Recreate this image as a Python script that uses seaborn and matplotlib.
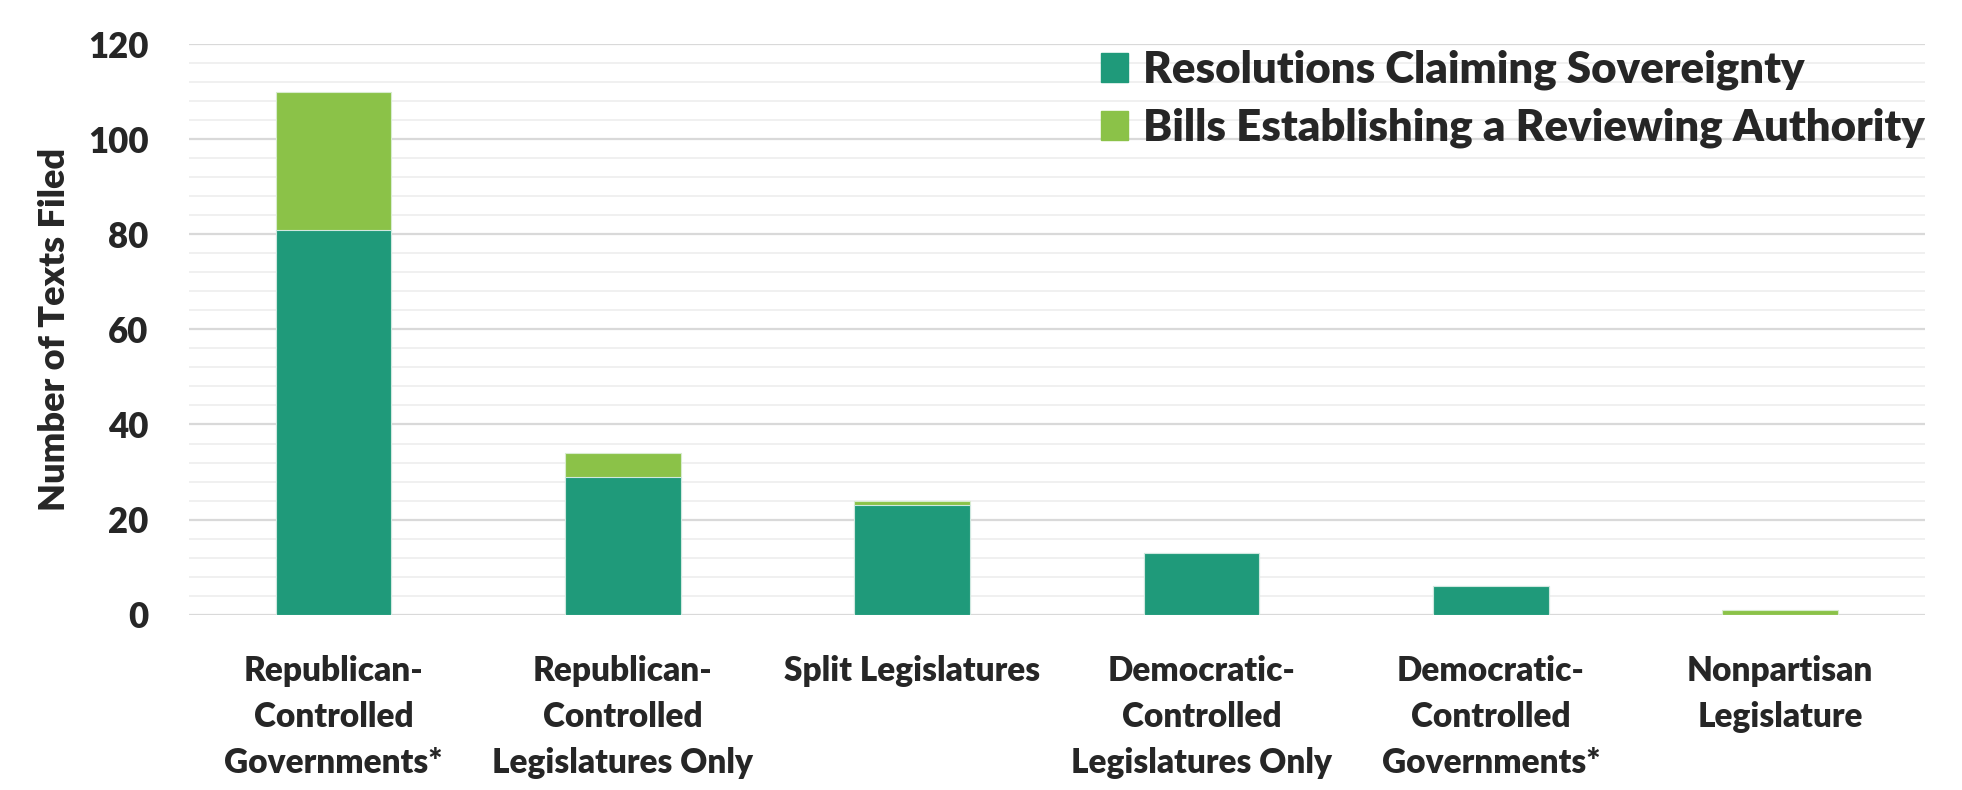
import matplotlib
matplotlib.use('Agg')
import matplotlib.pyplot as plt
import seaborn as sb
import numpy as np
from matplotlib.patches import Patch
from matplotlib.ticker import MultipleLocator

categories = [
    'Republican-\nControlled\nGovernments*',
    'Republican-\nControlled\nLegislatures Only',
    'Split Legislatures',
    'Democratic-\nControlled\nLegislatures Only',
    'Democratic-\nControlled\nGovernments*',
    'Nonpartisan\nLegislature',
]
resolutions = [81, 29, 23, 13, 6, 0]
bills = [29, 5, 1, 0, 0, 1]

dark_green = '#1f9a7a'
light_green = '#8bc248'

sb.set_theme(style="white")
plt.rcParams['font.family'] = ['Lato', 'DejaVu Sans']

totals = [r + b for r, b in zip(resolutions, bills)]

fig, ax = plt.subplots(figsize=(19.62, 7.9), dpi=100)
fig.subplots_adjust(left=.0963, right=.981, top=.944, bottom=.222)

# stacked: draw totals first, resolutions on top of them
sb.barplot(x=categories, y=totals, color=light_green, width=0.4, saturation=1,
           edgecolor='#d8eccf', linewidth=0.8, ax=ax, zorder=3)
sb.barplot(x=categories, y=resolutions, color=dark_green, width=0.4, saturation=1,
           edgecolor='#cfe8e0', linewidth=0.8, ax=ax, zorder=4)

ax.set_ylim(0, 120)
ax.set_xlim(-0.5, 5.5)
ax.yaxis.set_major_locator(MultipleLocator(20))
ax.yaxis.set_minor_locator(MultipleLocator(4))
ax.grid(which='major', axis='y', color='#d9d9d9', linewidth=1.6, zorder=0)
ax.grid(which='minor', axis='y', color='#f0f0f0', linewidth=1.4, zorder=0)
ax.set_axisbelow(True)
for s in ['top', 'right', 'left', 'bottom']:
    ax.spines[s].set_visible(False)
ax.tick_params(axis='both', which='both', length=0)
ax.tick_params(axis='y', labelsize=25, pad=29)
ax.tick_params(axis='x', labelsize=24, pad=29)
for lab in ax.get_yticklabels():
    lab.set_fontweight('heavy')
for lab in ax.get_xticklabels():
    lab.set_fontweight('heavy')
    lab.set_linespacing(1.55)
ax.set_ylabel('Number of Texts Filed', fontsize=26, fontweight='heavy', labelpad=12)

handles = [Patch(color=dark_green, label='Resolutions Claiming Sovereignty'),
           Patch(color=light_green, label='Bills Establishing a Reviewing Authority')]
leg = ax.legend(handles=handles, loc='upper right', bbox_to_anchor=(1.0, 0.99), frameon=False,
                fontsize=31.5, handlelength=0.62, handleheight=0.62, handletextpad=0.35,
                labelspacing=0.4, borderpad=0.0, borderaxespad=0.0)
for t in leg.get_texts():
    t.set_fontweight('heavy')

fig.savefig('out.png', dpi=100)
